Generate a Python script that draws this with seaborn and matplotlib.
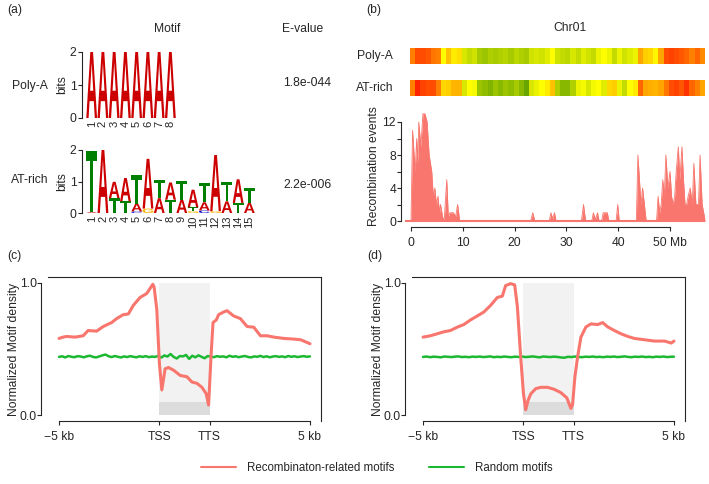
import numpy as np
import matplotlib
matplotlib.use("Agg")
import matplotlib.pyplot as plt
import matplotlib.transforms as mtransforms
import seaborn as sns
from matplotlib.textpath import TextPath
from matplotlib.patches import PathPatch, Rectangle
from matplotlib.font_manager import FontProperties
from matplotlib.colors import LinearSegmentedColormap
from matplotlib.lines import Line2D

sns.set_style("ticks")
plt.rcParams['font.family'] = ['Liberation Sans', 'DejaVu Sans']
FS = 8.7
plt.rcParams['font.size'] = FS

# ---------------- data ----------------
# (a) motif logos, stacks listed bottom -> top as (letter, bits)
polya_stacks = [[('A', 2.0)] for _ in range(8)]
atrich_stacks = [
    [('A', 0.03), ('T', 1.95)],
    [('A', 2.0)],
    [('T', 0.47), ('A', 0.52)],
    [('T', 0.37), ('A', 0.74)],
    [('C', 0.05), ('A', 0.25), ('T', 0.9)],
    [('G', 0.14), ('A', 1.58)],
    [('A', 0.47), ('T', 0.58)],
    [('T', 0.42), ('A', 0.55)],
    [('A', 0.42), ('T', 0.6)],
    [('G', 0.06), ('T', 0.12), ('A', 0.56)],
    [('C', 0.08), ('A', 0.26), ('T', 0.6)],
    [('G', 0.06), ('A', 1.78)],
    [('A', 0.37), ('T', 0.63)],
    [('T', 0.32), ('A', 0.75)],
    [('A', 0.32), ('T', 0.47)],
]
motif_names = ['Poly-A', 'AT-rich']
evalues = ['1.8e-044', '2.2e-006']

# (b) motif density along Chr01 (1 Mb windows, 0 = low, 1 = high)
polya_density = [0.80, 0.90, 0.90, 0.88, 0.82, 0.80, 0.50, 0.65, 0.55, 0.58,
                 0.40, 0.35, 0.38, 0.28, 0.25, 0.30, 0.28, 0.30, 0.32, 0.28,
                 0.33, 0.30, 0.28, 0.38, 0.40, 0.38, 0.42, 0.50, 0.38, 0.35,
                 0.33, 0.40, 0.35, 0.42, 0.38, 0.35, 0.45, 0.50, 0.45, 0.35,
                 0.45, 0.38, 0.42, 0.45, 0.72, 0.62, 0.60, 0.52, 0.72, 0.90,
                 0.92, 0.90, 0.88, 0.85, 0.80, 0.85, 0.78]
atrich_density = [0.80, 0.98, 0.92, 0.90, 0.90, 0.80, 0.60, 0.62, 0.68, 0.68,
                  0.40, 0.50, 0.48, 0.25, 0.22, 0.18, 0.25, 0.20, 0.25, 0.22,
                  0.28, 0.20, 0.12, 0.40, 0.45, 0.50, 0.55, 0.65, 0.30, 0.20,
                  0.20, 0.30, 0.45, 0.48, 0.40, 0.48, 0.50, 0.42, 0.60, 0.62,
                  0.45, 0.35, 0.50, 0.55, 0.85, 0.72, 0.70, 0.68, 0.72, 0.82,
                  0.90, 0.92, 0.88, 0.95, 0.85, 0.80, 0.72]
recomb_mb = [0.0, 0.3, 0.8, 1.1, 1.3, 1.5, 1.9, 2.3, 2.7, 3.1, 3.5, 4.0, 4.3,
             4.6, 4.9, 5.2, 5.5, 5.7, 6.1, 6.4, 6.9, 7.2, 7.5, 7.8, 8.2, 8.6,
             9.0, 9.4, 23.1, 23.5, 23.9, 26.7, 27.0, 27.35, 27.7, 28.0, 32.9,
             33.3, 33.7, 34.9, 35.2, 35.6, 36.0, 36.3, 36.8, 37.1, 37.9, 38.2,
             39.6, 39.9, 40.2, 43.5, 43.8, 44.4, 44.7, 45.4, 47.4, 47.7, 48.0,
             48.3, 48.6, 48.9, 49.2, 49.6, 50.0, 50.3, 50.6, 50.9, 51.2, 51.6,
             51.9, 52.3, 52.6, 52.9, 53.2, 53.5, 53.9, 54.3, 54.6, 55.0, 55.5,
             55.8, 56.2, 56.8]
recomb_events = [0, 11, 6, 10, 7, 12, 9, 13, 13, 12, 8, 6, 3,
                 4, 2, 3, 1, 2, 0.5, 0, 5, 0.5, 1, 1, 1, 0.5,
                 2, 0, 0, 1, 0, 0, 1, 0.3, 1, 0, 0,
                 2, 0, 0, 1, 0.2, 1, 0, 0, 1, 1, 0,
                 0, 2, 0, 0, 8, 2, 4, 0, 0, 3, 1,
                 2, 5, 3, 8, 4, 6, 3, 2, 3, 6, 9,
                 5, 9, 5, 2, 2, 3, 4, 2, 7, 2, 2,
                 8, 2, 0]
chr_ticks = [0, 10, 20, 30, 40, 50]
chr_ticklabels = ['0', '10', '20', '30', '40', '50 Mb']

# (c)/(d) meta-gene profiles: -5 kb = 0, TSS = 100, TTS = 150, 5 kb = 250
gene_ticks = [0, 100, 150, 250]
gene_ticklabels = ['\u22125 kb', 'TSS', 'TTS', '5 kb']
c_red_x = [0, 4, 7.4, 16, 24, 29, 37.4, 44, 52.4, 57.4, 64, 69, 74, 80.7, 87.4,
           93.4, 94.7, 97.4, 100, 102.4, 105.7, 109, 114, 120.7, 127.4, 132.4,
           137.4, 142.4, 146.7, 149, 151.4, 153.4, 156.7, 159, 164, 167.4, 174,
           180.7, 187.4, 194, 200.7, 207.4, 214, 224, 234, 240.7, 250]
c_red_y = [0.58, 0.59, 0.595, 0.59, 0.60, 0.64, 0.635, 0.67, 0.70, 0.73, 0.76,
           0.765, 0.83, 0.89, 0.92, 0.99, 0.97, 0.80, 0.39, 0.19, 0.35, 0.36,
           0.34, 0.30, 0.29, 0.25, 0.24, 0.21, 0.16, 0.076, 0.44, 0.70, 0.72,
           0.76, 0.78, 0.79, 0.75, 0.73, 0.67, 0.665, 0.60, 0.60, 0.59, 0.58,
           0.575, 0.57, 0.54]
c_green = [0.440, 0.445, 0.436, 0.447, 0.441, 0.438, 0.446, 0.443, 0.437, 0.445,
           0.449, 0.440, 0.436, 0.444, 0.452, 0.458, 0.445, 0.439, 0.447, 0.441,
           0.436, 0.444, 0.439, 0.446, 0.441, 0.437, 0.445, 0.440, 0.446, 0.438,
           0.443, 0.440, 0.448, 0.435, 0.451, 0.443, 0.462, 0.440, 0.428, 0.447,
           0.444, 0.455, 0.425, 0.449, 0.437, 0.452, 0.441, 0.430, 0.447, 0.442,
           0.438, 0.446, 0.441, 0.444, 0.437, 0.449, 0.441, 0.445, 0.438, 0.443,
           0.447, 0.440, 0.436, 0.444, 0.441, 0.448, 0.439, 0.445, 0.437, 0.443,
           0.446, 0.440, 0.444, 0.438, 0.447, 0.441, 0.445, 0.439, 0.443, 0.446,
           0.441, 0.444]
d_red_x = [0, 7.3, 14, 20.6, 27.3, 34, 40.6, 47.3, 54, 60.6, 67.3, 74, 79, 82.3,
           87.3, 91.3, 94, 97.3, 100, 102.3, 104.6, 107.3, 112.3, 117.3, 124,
           130.6, 137.3, 143.3, 147.3, 149, 151.3, 154, 157.3, 162.3, 167.3, 174,
           179, 184, 190.6, 197.3, 204, 210.6, 220.6, 230.6, 240.6, 247.3, 250]
d_red_y = [0.59, 0.60, 0.615, 0.63, 0.64, 0.665, 0.685, 0.72, 0.75, 0.78, 0.83,
           0.89, 0.90, 0.98, 0.995, 0.985, 0.82, 0.44, 0.165, 0.04, 0.11, 0.16,
           0.20, 0.21, 0.21, 0.195, 0.17, 0.13, 0.05, 0.08, 0.29, 0.44, 0.59,
           0.667, 0.69, 0.685, 0.70, 0.667, 0.64, 0.615, 0.595, 0.58, 0.57, 0.56,
           0.56, 0.545, 0.56]
d_green = [0.440, 0.443, 0.438, 0.442, 0.440, 0.437, 0.443, 0.441, 0.439, 0.442,
           0.444, 0.439, 0.441, 0.438, 0.442, 0.440, 0.443, 0.439, 0.441, 0.444,
           0.438, 0.441, 0.439, 0.443, 0.440, 0.438, 0.442, 0.440, 0.443, 0.439,
           0.441, 0.444, 0.440, 0.437, 0.443, 0.441, 0.439, 0.442, 0.440, 0.436,
           0.434, 0.441, 0.439, 0.443, 0.440, 0.438, 0.442, 0.440, 0.443, 0.439,
           0.441, 0.438, 0.442, 0.440, 0.443, 0.439, 0.441, 0.444, 0.440, 0.438,
           0.442, 0.440, 0.443, 0.439, 0.441, 0.438, 0.442, 0.440, 0.443, 0.439,
           0.441, 0.442]

RED = '#F8766D'
GREEN = '#1DB832'
LETTER_COLORS = {'A': '#CC0000', 'T': '#008000', 'C': '#0000CC', 'G': '#FFB300'}
FP = FontProperties(family='Liberation Sans', weight='bold')

W, H = 709, 484
fig = plt.figure(figsize=(W / 100, H / 100), dpi=100)


def add_ax(x0, y0, x1, y1):
    return fig.add_axes([x0 / W, 1 - y1 / H, (x1 - x0) / W, (y1 - y0) / H])


def put(x, y, s, **kw):
    fig.text(x / W, 1 - y / H, s, **kw)


def draw_letter(ax, ch, xc, y, w, h):
    tp = TextPath((0, 0), ch, size=1, prop=FP)
    bb = tp.get_extents()
    tr = (mtransforms.Affine2D().translate(-bb.x0, -bb.y0)
          .scale(w / bb.width, h / bb.height).translate(xc - w / 2, y))
    ax.add_patch(PathPatch(tr.transform_path(tp), lw=0, fc=LETTER_COLORS[ch]))


def logo(ax, stacks):
    for i, stack in enumerate(stacks):
        y = 0
        for ch, h in stack:
            draw_letter(ax, ch, i + 1, y, 0.96, h)
            y += h
    ax.set_xlim(0.14, len(stacks) + 0.5)
    ax.set_ylim(0, 2)
    ax.set_yticks([0, 1, 2])
    ax.set_xticks(range(1, len(stacks) + 1))
    ax.set_xticklabels([str(i) for i in range(1, len(stacks) + 1)], rotation=90)
    ax.tick_params(axis='x', length=0, pad=2, labelsize=8)
    ax.tick_params(axis='y', length=3, pad=1, labelsize=FS)
    ax.set_ylabel('bits', labelpad=1)
    for s in ['top', 'right', 'bottom']:
        ax.spines[s].set_visible(False)
    ax.patch.set_alpha(0)


# ---------------- (a) ----------------
put(7, 10, '(a)', ha='left', va='center')
put(167, 29, 'Motif', ha='center', va='center')
put(303, 29, 'E-value', ha='center', va='center')
logo(add_ax(82, 52, 176, 118), polya_stacks)
logo(add_ax(82, 150, 255, 213), atrich_stacks)
put(30, 86, motif_names[0], ha='center', va='center')
put(30, 180, motif_names[1], ha='center', va='center')
put(307, 83, evalues[0], ha='center', va='center')
put(307, 185, evalues[1], ha='center', va='center')

# ---------------- (b) ----------------
put(366, 10, '(b)', ha='left', va='center')
put(570, 28, 'Chr01', ha='center', va='center')
heat_cmap = LinearSegmentedColormap.from_list(
    'gyr', ['#3a8a00', '#9cc400', '#ffff00', '#ff9900', '#ff1a00'])
for (y0, y1), vals, name in [((48, 64), polya_density, 'Poly-A'),
                             ((80, 96), atrich_density, 'AT-rich')]:
    hax = add_ax(410, y0, 705, y1)
    sns.heatmap(np.array(vals)[None, :], ax=hax, cmap=heat_cmap, vmin=0, vmax=1,
                cbar=False, xticklabels=False, yticklabels=False)
    hax.set_ylabel('')
    put(375, (y0 + y1) / 2, name, ha='center', va='center')

px_per_mb = 5.18
px_per_ev = 8.25
rax = add_ax(405, 110, 705, 223)
rax.fill_between(recomb_mb, recomb_events, 0, color=RED, lw=0)
rax.plot(recomb_mb, recomb_events, color=RED, lw=0.6)
rax.axhline(0, color=RED, lw=1.5)
rax.set_xlim(-6 / px_per_mb, 294 / px_per_mb)
rax.set_ylim(-2 / px_per_ev, 111 / px_per_ev)
rax.set_xticks(chr_ticks)
rax.set_xticklabels(chr_ticklabels)
rax.set_yticks(range(0, 13, 2))
rax.set_yticklabels(['0', '', '4', '', '8', '', '12'], rotation=90, va='center')
rax.spines['left'].set_bounds(0, 12)
rax.spines['bottom'].set_bounds(0, 50)
rax.spines['left'].set_position(('outward', 3))
rax.spines['bottom'].set_position(('outward', 3))
for s in ['top', 'right']:
    rax.spines[s].set_visible(False)
rax.tick_params(length=3, pad=0.5, labelsize=FS)
rax.tick_params(axis='x', pad=4)
rax.set_ylabel('Recombination events', labelpad=2)
rax.patch.set_alpha(0)

# ---------------- (c) and (d) ----------------
for label, lx, (x0, x1), rx, ry, green in [
        ('(c)', 7, (48, 321), c_red_x, c_red_y, c_green),
        ('(d)', 367, (412, 685), d_red_x, d_red_y, d_green)]:
    put(lx, 256, label, ha='left', va='center')
    ax = add_ax(x0, 277, x1, 421)
    ax.add_patch(Rectangle((100, 0), 50, 1.0, fc='#F2F2F2', lw=0, zorder=0))
    ax.add_patch(Rectangle((100, 0), 50, 0.1, fc='#DCDCDC', lw=0, zorder=0))
    sns.lineplot(x=np.linspace(0, 250, len(green)), y=green, ax=ax,
                 color=GREEN, lw=1.8)
    sns.lineplot(x=rx, y=ry, ax=ax, color=RED, lw=2.2)
    ax.set_xlim(-11, 261)
    ax.set_ylim(-0.045, 1.045)
    ax.set_xticks(gene_ticks)
    ax.set_xticklabels(gene_ticklabels)
    ax.set_yticks([0, 1])
    ax.set_yticklabels(['0.0', '1.0'], rotation=90, va='center')
    ax.spines['left'].set_bounds(0, 1)
    ax.spines['left'].set_position(('outward', 5))
    ax.spines['bottom'].set_bounds(0, 250)
    ax.tick_params(length=3, pad=0, labelsize=FS)
    ax.tick_params(axis='x', pad=4)
    ax.set_ylabel('Normalized Motif density', labelpad=0)
    ax.set_xlabel('')

handles = [Line2D([], [], color=RED, lw=1.5), Line2D([], [], color=GREEN, lw=1.5)]
fig.legend(handles, ['Recombinaton-related motifs', 'Random motifs'],
           loc='center', bbox_to_anchor=(377 / W, 1 - 468 / H), ncol=2,
           frameon=False, handlelength=3.0, handletextpad=1.0,
           columnspacing=3.0, fontsize=8.3)

fig.savefig('out.png', dpi=100)
